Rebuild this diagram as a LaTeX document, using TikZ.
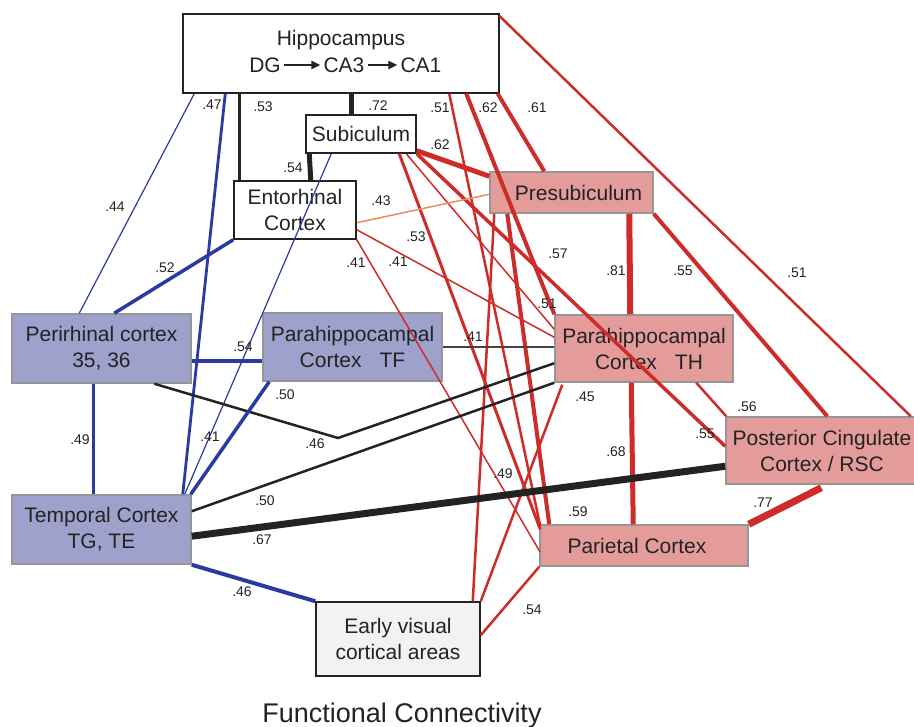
\documentclass[tikz,border=0pt]{standalone}
\usepackage{fontspec}
\setmainfont{Liberation Sans}
\usetikzlibrary{calc,arrows.meta}
\definecolor{cred}{RGB}{206,44,40}
\definecolor{cblue}{RGB}{43,58,160}
\definecolor{corange}{RGB}{233,140,95}
\definecolor{cpink}{RGB}{228,156,155}
\definecolor{clav}{RGB}{158,161,204}
\definecolor{cev}{RGB}{242,242,242}
\definecolor{cdark}{RGB}{35,35,35}
\definecolor{cgrayb}{RGB}{150,150,150}
\begin{document}
\begin{tikzpicture}[x=1pt,y=-1pt,
  whitebox/.style={draw=cdark, line width=1.5pt, fill=white, inner sep=0pt, align=center,
    font=\fontsize{21}{26}\selectfont, text=cdark},
  pinkbox/.style={whitebox, draw=cgrayb, fill=cpink},
  bluebox/.style={whitebox, draw=cgrayb, fill=clav},
  evbox/.style={whitebox, fill=cev},
  btxt/.style={font=\fontsize{21}{26}\selectfont, text=cdark, inner sep=3pt},
  lab/.style={font=\fontsize{14}{16}\selectfont, inner sep=0pt, text=cdark},
  rl/.style={draw=cred},
  bl/.style={draw=cblue},
  kl/.style={draw=cdark},
  ol/.style={draw=corange}
]
\useasboundingbox (0,0) rectangle (914,727);

% ---------- boxes ----------
\node[whitebox, minimum width=316pt, minimum height=79pt] (hip) at (341,53.5) {};
\node[btxt] (hiptxt) at (341,40) {Hippocampus};
\node[btxt] (dg) at (265,65) {DG};
\node[btxt] (ca3) at (344,65) {CA3};
\node[btxt] (ca1) at (421,65) {CA1};
\draw[cdark, line width=2pt, -{Triangle[length=9pt,width=8pt]}] (dg.east) -- (ca3.west);
\draw[cdark, line width=2pt, -{Triangle[length=9pt,width=8pt]}] (ca3.east) -- (ca1.west);

\node[whitebox, minimum width=110pt, minimum height=38pt] (sub) at (361,134) {Subiculum};
\node[whitebox, minimum width=122pt, minimum height=58pt] (ento) at (295,210) {Entorhinal\\Cortex};
\node[pinkbox, minimum width=163pt, minimum height=41pt] (presub) at (571.5,192.5) {\hspace*{14pt}Presubiculum};
\node[bluebox, minimum width=179pt, minimum height=69pt] (peri) at (101.5,348.5) {Perirhinal cortex\\35, 36};
\node[bluebox, minimum width=179pt, minimum height=68pt] (tf) at (352.5,347) {Parahippocampal\\Cortex\hspace{18pt}TF};
\node[pinkbox, minimum width=178pt, minimum height=67pt] (th) at (644,348.5) {Parahippocampal\\\hspace*{10pt}Cortex\hspace{18pt}TH};
\node[pinkbox, minimum width=192pt, minimum height=67pt] (pcc) at (822,450.5) {Posterior Cingulate\\Cortex / RSC};
\node[bluebox, minimum width=179pt, minimum height=69pt] (temp) at (101.5,529.5) {Temporal Cortex\\TG, TE};
\node[pinkbox, minimum width=208pt, minimum height=41pt] (par) at (644,545.5) {Parietal Cortex\hspace*{14pt}};
\node[evbox, minimum width=164pt, minimum height=74pt] (ev) at (398,639) {Early visual\\cortical areas};

% ---------- connectors from hippocampus ----------
\draw[bl, line width=1.2pt] ($(hip.south west)+(12,0)$) -- ($(peri.north west)+(68,0)$);
\draw[bl, line width=2.8pt] ($(hip.south west)+(43,0)$) -- ($(temp.north east)+(-9,0)$);
\draw[kl, line width=3pt] ($(hip.south west)+(57,0)$) -- ($(ento.north west)+(6,0)$);
\draw[kl, line width=5pt] ($(hip.south west)+(169,0)$) -- ($(sub.north west)+(46,0)$);
\draw[rl, line width=2.5pt] ($(hip.south west)+(267,0)$) -- ($(par.north west)+(1,2)$);
\draw[rl, line width=4pt] ($(hip.south west)+(284,0)$) -- (th.north west);
\draw[rl, line width=4pt] ($(hip.south east)+(-2,0)$) -- ($(presub.north west)+(55,0)$);
\draw[rl, line width=2.5pt] ($(hip.north east)+(0,3)$) -- ($(pcc.north east)+(-8,0)$);

% ---------- subiculum ----------
\draw[kl, line width=5pt] ($(sub.south west)+(4,0)$) -- ($(ento.north east)+(-46,0)$);
\draw[rl, line width=5pt] ($(sub.south east)+(0,-3)$) -- ($(presub.north west)+(0,5)$);
\draw[rl, line width=3pt] ($(sub.south west)+(94,0)$) -- ($(par.north west)+(1,5)$);
\draw[rl, line width=1.5pt] ($(sub.south west)+(101,0)$) -- ($(th.north west)+(0,15)$);
\draw[rl, line width=3.5pt] (sub.south east) -- ($(pcc.north west)+(0,30)$);
\draw[bl, line width=1.2pt] ($(sub.south west)+(26,0)$) -- ($(temp.north east)+(-7,0)$);

% ---------- entorhinal ----------
\draw[bl, line width=3.5pt] (ento.south west) -- ($(peri.north west)+(103,0)$);
\draw[ol, line width=1.5pt] ($(ento.south east)+(0,-17)$) -- ($(presub.north west)+(0,23)$);
\draw[rl, line width=1.5pt] ($(ento.south east)+(0,-10)$) -- ($(th.north west)+(0,23)$);
\draw[rl, line width=1.5pt] (ento.south east) -- ($(par.north west)+(1,28)$);

% ---------- presubiculum ----------
\draw[rl, line width=6pt] ($(presub.south west)+(140,0)$) -- ($(th.north west)+(76,0)$);
\draw[rl, line width=4pt] (presub.south east) -- ($(pcc.north west)+(102,0)$);
\draw[rl, line width=2.5pt] ($(presub.south west)+(5,0)$) -- ($(ev.north east)+(-8,0)$);
\draw[rl, line width=4pt] ($(presub.south west)+(18,0)$) -- ($(par.north west)+(10,0)$);

% ---------- perirhinal ----------
\draw[bl, line width=4.5pt] ($(peri.east)+(0,12.5)$) -- ($(tf.west)+(0,14)$);
\draw[bl, line width=2.5pt] ($(peri.south west)+(82,0)$) -- ($(temp.north west)+(82,0)$);
\coordinate (bend) at (338,438);
\draw[kl, line width=2.5pt] ($(peri.south west)+(143,0)$) -- (bend) -- ($(th.north west)+(0,49)$);

% ---------- TF ----------
\draw[draw=cdark!85, line width=1.2pt] (tf.east) -- (tf.east -| th.west);
\draw[bl, line width=3.5pt] ($(tf.south west)+(7,0)$) -- ($(temp.north east)+(-1,0)$);

% ---------- TH ----------
\draw[kl, line width=2.5pt] ($(temp.north east)+(0,17)$) -- (th.south west);
\draw[rl, line width=2.5pt] ($(th.south west)+(8,2)$) -- (ev.north east);
\draw[rl, line width=2.5pt] ($(th.south west)+(142,0)$) -- ($(pcc.north west)+(1,0)$);
\draw[rl, line width=5pt] ($(th.south west)+(77,0)$) -- ($(par.north west)+(94,0)$);

% ---------- temporal ----------
\draw[kl, line width=7pt] ($(temp.north east)+(0,42)$) -- ($(pcc.north west)+(0,50)$);
\draw[bl, line width=4pt] (temp.south east) -- (ev.north west);

% ---------- early visual ----------
\draw[rl, line width=2.5pt] ($(ev.north east)+(0,34)$) -- (par.south west);

% ---------- PCC ----------
\draw[rl, line width=7pt] ($(pcc.south west)+(96,3)$) -- (par.north east);

% ---------- labels ----------
\node[lab] (l01) at (212,105) {.47};
\node[lab] (l02) at (263,107) {.53};
\node[lab] (l03) at (378,106) {.72};
\node[lab] (l04) at (440,108) {.51};
\node[lab] (l05) at (488,108) {.62};
\node[lab] (l06) at (537,108) {.61};
\node[lab] (l07) at (440,145) {.62};
\node[lab] (l08) at (293,168) {.54};
\node[lab] (l09) at (381,201) {.43};
\node[lab] (l10) at (115,207) {.44};
\node[lab] (l11) at (165,268) {.52};
\node[lab] (l12) at (416,237) {.53};
\node[lab] (l13) at (356,263) {.41};
\node[lab] (l14) at (398,262) {.41};
\node[lab] (l15) at (558,254) {.57};
\node[lab] (l16) at (616,271) {.81};
\node[lab] (l17) at (683,271) {.55};
\node[lab] (l18) at (797,273) {.51};
\node[lab] (l19) at (547,304) {.51};
\node[lab] (l20) at (473,337) {.41};
\node[lab] (l21) at (243,347) {.54};
\node[lab] (l22) at (285,395) {.50};
\node[lab] (l23) at (80,440) {.49};
\node[lab] (l24) at (210,437) {.41};
\node[lab] (l25) at (315,444) {.46};
\node[lab] (l26) at (265,501) {.50};
\node[lab] (l27) at (262,540) {.67};
\node[lab] (l28) at (585,397) {.45};
\node[lab] (l29) at (747,407) {.56};
\node[lab] (l30) at (705,434) {.55};
\node[lab] (l31) at (616,452) {.68};
\node[lab] (l32) at (503,474) {.49};
\node[lab] (l33) at (578,512) {.59};
\node[lab] (l34) at (763,503) {.77};
\node[lab] (l35) at (242,592) {.46};
\node[lab] (l36) at (532,610) {.54};

\node[font=\fontsize{27}{32}\selectfont, text=cdark, anchor=base, inner sep=0pt] (title) at (402,722) {Functional Connectivity};
\end{tikzpicture}
\end{document}
